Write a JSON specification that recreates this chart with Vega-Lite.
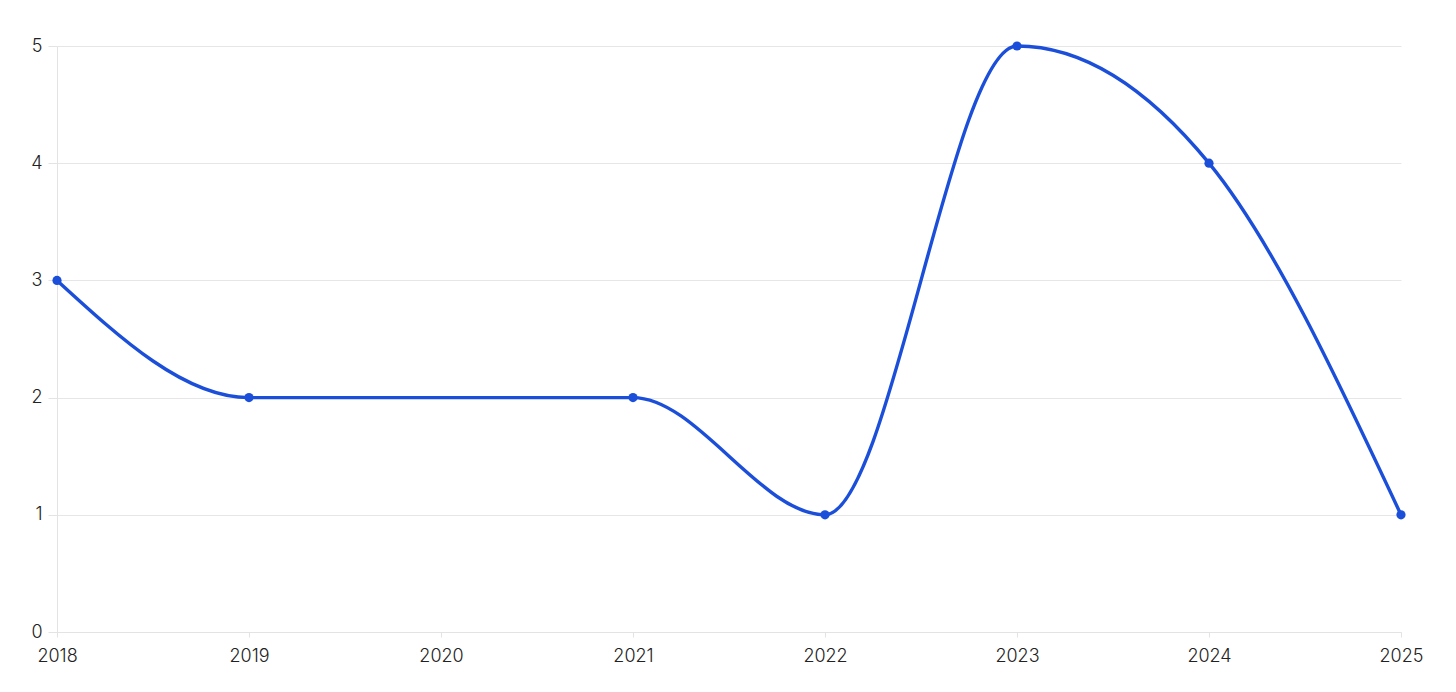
{
  "$schema": "https://vega.github.io/schema/vega-lite/v6.json",
  "autosize": "none",
  "width": 1344,
  "height": 586,
  "padding": {"left": 57, "top": 46, "right": 55, "bottom": 60},
  "background": "white",
  "data": {"values": [
    {"year": 2018, "value": 3},
    {"year": 2019, "value": 2},
    {"year": 2021, "value": 2},
    {"year": 2022, "value": 1},
    {"year": 2023, "value": 5},
    {"year": 2024, "value": 4},
    {"year": 2025, "value": 1}
  ]},
  "config": {
    "view": {"stroke": null},
    "axis": {
      "labelFont": "Inter",
      "labelFontSize": 18,
      "labelFontWeight": 300,
      "labelColor": "#222222",
      "gridColor": "#e6e6e6",
      "domainColor": "#e3e3e3",
      "tickColor": "#e3e3e3",
      "title": null
    }
  },
  "encoding": {
    "x": {
      "field": "year", "type": "quantitative",
      "scale": {"domain": [2018, 2025], "nice": false, "zero": false},
      "axis": {"values": [2018, 2019, 2020, 2021, 2022, 2023, 2024, 2025], "format": "d", "grid": false, "tickSize": 5, "labelPadding": 10, "labelFlush": false}
    },
    "y": {
      "field": "value", "type": "quantitative",
      "scale": {"domain": [0, 5], "nice": false},
      "axis": {"values": [0, 1, 2, 3, 4, 5], "tickSize": 9, "labelPadding": 6, "grid": true}
    }
  },
  "layer": [
    {"mark": {"type": "line", "interpolate": "monotone", "color": "#1c4fd9", "strokeWidth": 3.4}},
    {"mark": {"type": "point", "filled": true, "opacity": 1, "color": "#1c4fd9", "size": 85}}
  ]
}
